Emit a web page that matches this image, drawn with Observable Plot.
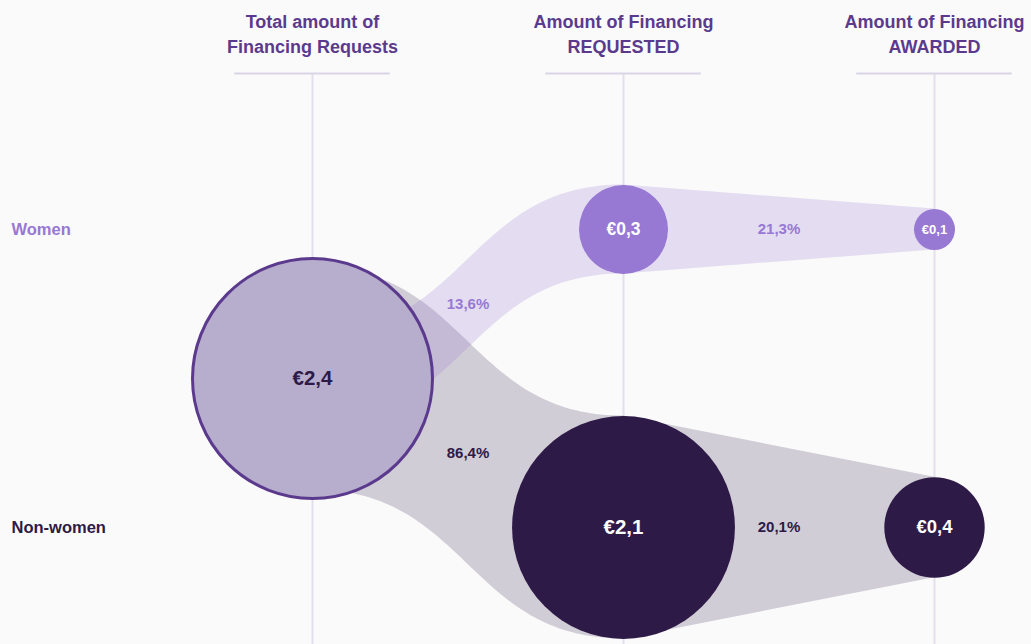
<!DOCTYPE html>
<html>
<head>
<meta charset="utf-8">
<script src="https://cdn.jsdelivr.net/npm/d3@7"></script>
<script src="https://cdn.jsdelivr.net/npm/@observablehq/plot@0.6"></script>
<style>
  html, body { margin: 0; padding: 0; background: #fafafa; }
  #chart { width: 1031px; height: 644px; }
</style>
</head>
<body>
<div id="chart"></div>
<script>
// ---- data ----
const columns = ["Total amount of\nFinancing Requests", "Amount of Financing\nREQUESTED", "Amount of Financing\nAWARDED"];
const groups = ["Women", "Non-women"];
const totalRequests = 2.4;            // € total of financing requests
const requested = [0.33, 2.07];       // € requested, by group
const awarded = [0.07, 0.42];         // € awarded, by group
const shareOfTotal = [13.6, 86.4];    // % of total requests, by group
const awardRate = [21.3, 20.1];       // % of requested that was awarded

// ---- layout / style ----
const W = 1031, H = 644;
const COL_RANGE = [312, 934];
const ROW_RANGE = [229, 527];
const R_MAX = 120;
const PX_PER_ROW = ROW_RANGE[1] - ROW_RANGE[0];
const toRow = px => (px - ROW_RANGE[0]) / PX_PER_ROW;
const HEADER_RULE = toRow(73);
const groupColor = ["#9778d3", "#2e1a47"];
const labelColor = ["#9778d3", "#2d1a47"];
const headerColor = "#5b3a8e";
const gridColor = "#e3dfec";
const font = "'Liberation Sans', Arial, Helvetica, sans-serif";

const rPx = d3.scaleSqrt().domain([0, totalRequests]).range([0, R_MAX]);
const fmt = v => v.toFixed(1).replace(".", ",");

// nodes
const nodes = [
  {col: 0, row: 0.5, value: totalRequests, fill: "#b7adcd", text: "#2d1a47"},
  ...groups.map((g, i) => ({col: 1, row: i, value: requested[i], fill: groupColor[i], text: "#ffffff"})),
  ...groups.map((g, i) => ({col: 2, row: i, value: awarded[i], fill: groupColor[i], text: "#ffffff"}))
];

// ribbons (flows), derived from node positions and sizes
const ribbons = [];
groups.forEach((g, i) => {
  const h0 = rPx(requested[i]) / PX_PER_ROW;
  const h1 = rPx(awarded[i]) / PX_PER_ROW;
  const n = 80;
  for (let k = 0; k <= n; k++) {
    const t = k / n;
    const bx = 1.5 * t * (1 - t) + t * t * t;
    const by = 3 * t * t - 2 * t * t * t;
    const yc = 0.5 + (i - 0.5) * by;
    ribbons.push({group: g, idx: i, x: bx, lo: yc - h0, hi: yc + h0});
  }
  ribbons.push({group: g, idx: i, x: 2, lo: i - h1, hi: i + h1});
});

const flowLabels = [
  ...groups.map((g, i) => ({x: 0.5, y: (0.5 + i) / 2, text: fmt(shareOfTotal[i]) + "%", fill: labelColor[i]})),
  ...groups.map((g, i) => ({x: 1.5, y: i, text: fmt(awardRate[i]) + "%", fill: labelColor[i]}))
];

const fontScale = d3.scaleLinear().domain([20, 50, 110]).range([13, 18.5, 20.5]).clamp(true);

const chart = Plot.plot({
  width: W,
  height: H,
  margin: 0,
  style: {background: "#fafafa", fontFamily: font},
  x: {domain: [0, 2], range: COL_RANGE, axis: null},
  y: {domain: [0, 1], range: ROW_RANGE, axis: null},
  r: {domain: [0, totalRequests], range: [0, R_MAX]},
  color: {type: "identity"},
  marks: [
    Plot.ruleX([0, 1, 2], {x: d => d, y1: HEADER_RULE, y2: toRow(H + 2), stroke: gridColor, strokeWidth: 2}),
    Plot.ruleY([0, 1, 2], {y: HEADER_RULE, x1: d => d - 0.25, x2: d => d + 0.25, stroke: "#d9d4e6", strokeWidth: 2}),
    Plot.text(columns, {x: (d, i) => i, text: d => d, frameAnchor: "top", dy: 31.5, lineAnchor: "middle",
      lineHeight: 25 / 18, fontSize: 18, fontWeight: "bold", fill: headerColor}),
    Plot.text(groups, {y: (d, i) => i, text: d => d, frameAnchor: "left", dx: 11, textAnchor: "start",
      fontSize: 16.5, fontWeight: "bold", fill: (d, i) => labelColor[i]}),
    Plot.areaY(ribbons.filter(d => d.idx === 1), {x: "x", y1: "lo", y2: "hi", fill: groupColor[1], fillOpacity: 0.2}),
    Plot.areaY(ribbons.filter(d => d.idx === 0), {x: "x", y1: "lo", y2: "hi", fill: groupColor[0], fillOpacity: 0.22}),
    Plot.dot(nodes, {x: "col", y: "row", r: "value", fill: "fill",
      stroke: d => d.col === 0 ? headerColor : "none", strokeWidth: 3}),
    Plot.text(nodes, {x: "col", y: "row", text: d => "€" + fmt(d.value), fill: "text", fontWeight: "bold",
      fontSize: d => fontScale(rPx(d.value))}),
    Plot.text(flowLabels, {x: "x", y: "y", text: "text", fill: "fill", fontWeight: "bold", fontSize: 15})
  ]
});
document.getElementById("chart").appendChild(chart);
</script>
</body>
</html>
